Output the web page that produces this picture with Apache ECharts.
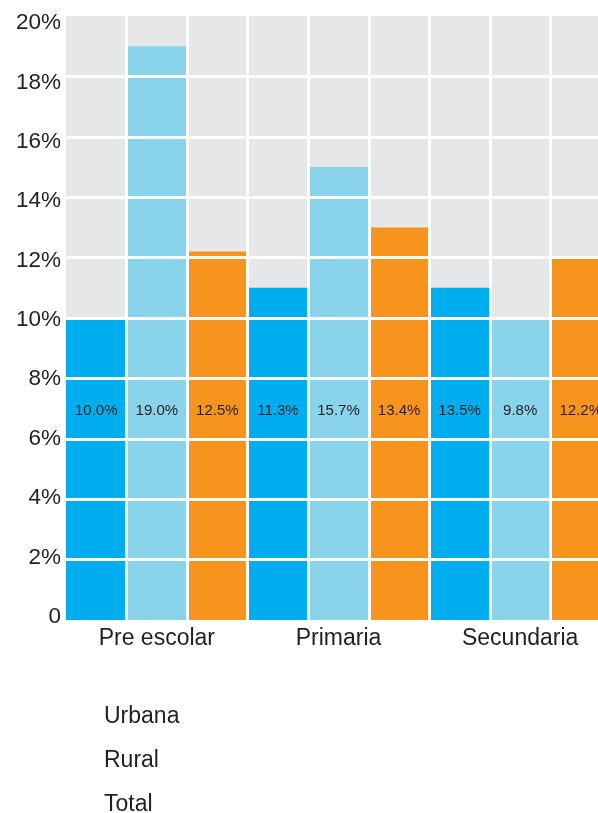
<!DOCTYPE html>
<html>
<head>
<meta charset="utf-8">
<script src="https://cdn.jsdelivr.net/npm/echarts@6/dist/echarts.min.js"></script>
<style>
  html, body { margin: 0; padding: 0; background: #ffffff; }
  #chart { width: 598px; height: 813px; }
</style>
</head>
<body>
<div id="chart"></div>
<script>
// ---- Data ----
const categories = ['Pre escolar', 'Primaria', 'Secundaria'];
const seriesNames = ['Urbana', 'Rural', 'Total'];
const urbana = [10, 11, 11];
const rural = [19, 15, 10];
const total = [12.2, 13, 12];
const urbanaLabels = ['10.0%', '11.3%', '13.5%'];
const ruralLabels = ['19.0%', '15.7%', '9.8%'];
const totalLabels = ['12.5%', '13.4%', '12.2%'];
const yMin = 0, yMax = 20, yStep = 2;

// ---- Styles ----
const colors = ['#00aeef', '#8ad4eb', '#f7941d'];
const textColor = '#231f20';
const font = 'Liberation Sans, Arial, sans-serif';

function barSeries(name, values, labels, color) {
  return {
    name: name,
    type: 'bar',
    xAxisIndex: 0,
    yAxisIndex: 0,
    data: values,
    barGap: '0%',
    barCategoryGap: '0%',
    itemStyle: { color: color },
    z: 2,
    label: {
      show: true,
      position: 'insideBottom',
      distance: 202,
      fontSize: 15,
      fontFamily: font,
      color: textColor,
      formatter: function (p) { return labels[p.dataIndex]; }
    }
  };
}

const chart = echarts.init(document.getElementById('chart'), null, { renderer: 'canvas' });
chart.setOption({
  backgroundColor: '#ffffff',
  animation: false,
  color: colors,
  legend: {
    orient: 'vertical',
    left: 94,
    top: 700,
    height: 200,
    itemWidth: 0,
    itemHeight: 0,
    itemGap: 21,
    icon: 'none',
    data: seriesNames,
    textStyle: { fontSize: 23, lineHeight: 23, fontFamily: font, color: textColor }
  },
  grid: [
    { left: 66, top: 16, width: 545, bottom: 193, show: true, backgroundColor: '#e6e7e8', borderWidth: 0, outerBoundsMode: 'none', containLabel: false },
    { left: 66, top: 23, width: 545, bottom: 196.3, show: false, outerBoundsMode: 'none', containLabel: false }
  ],
  xAxis: [
    {
      type: 'category',
      gridIndex: 0,
      data: categories,
      axisLine: { show: false },
      axisTick: { show: false },
      axisLabel: { fontSize: 23, fontFamily: font, color: textColor, margin: 7 },
      splitLine: { show: false }
    },
    {
      type: 'value',
      gridIndex: 0,
      min: 0, max: 9, interval: 1,
      position: 'top',
      z: 3,
      axisLine: { show: false },
      axisTick: { show: false },
      axisLabel: { show: false },
      splitLine: { show: true, showMinLine: false, showMaxLine: false, lineStyle: { color: '#ffffff', width: 3 } }
    },
    {
      type: 'value',
      gridIndex: 1,
      show: false
    }
  ],
  yAxis: [
    {
      type: 'value',
      gridIndex: 0,
      min: yMin, max: yMax, interval: yStep,
      z: 3,
      axisLine: { show: false },
      axisTick: { show: false },
      axisLabel: { show: false },
      splitLine: { show: true, showMinLine: false, showMaxLine: false, lineStyle: { color: '#ffffff', width: 3 } }
    },
    {
      type: 'value',
      gridIndex: 1,
      min: yMin, max: yMax, interval: yStep,
      axisLine: { show: false },
      axisTick: { show: false },
      splitLine: { show: false },
      axisLabel: {
        fontSize: 22.5, fontFamily: font, color: textColor, margin: 5,
        formatter: function (v) { return v === 0 ? '0' : v + '%'; }
      }
    }
  ],
  series: [
    barSeries(seriesNames[0], urbana, urbanaLabels, colors[0]),
    barSeries(seriesNames[1], rural, ruralLabels, colors[1]),
    barSeries(seriesNames[2], total, totalLabels, colors[2])
  ]
});
</script>
</body>
</html>
